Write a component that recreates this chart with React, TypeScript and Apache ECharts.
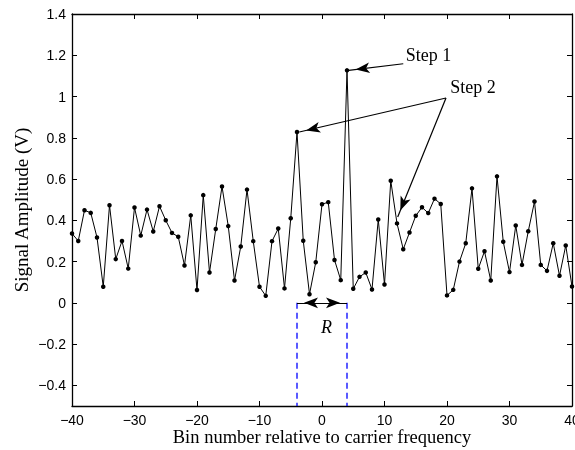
import React, { useEffect, useRef } from "react";
import * as echarts from "echarts";

const bins = [
  -40, -39, -38, -37, -36, -35, -34, -33, -32, -31,
  -30, -29, -28, -27, -26, -25, -24, -23, -22, -21,
  -20, -19, -18, -17, -16, -15, -14, -13, -12, -11,
  -10, -9, -8, -7, -6, -5, -4, -3, -2, -1,
  0, 1, 2, 3, 4, 5, 6, 7, 8, 9,
  10, 11, 12, 13, 14, 15, 16, 17, 18, 19,
  20, 21, 22, 23, 24, 25, 26, 27, 28, 29,
  30, 31, 32, 33, 34, 35, 36, 37, 38, 39, 40,
];

const amplitudes = [
  0.336, 0.3, 0.449, 0.436, 0.317, 0.078, 0.473, 0.212, 0.3, 0.166,
  0.462, 0.326, 0.452, 0.346, 0.468, 0.4, 0.339, 0.32, 0.181, 0.424,
  0.062, 0.522, 0.147, 0.358, 0.564, 0.372, 0.108, 0.273, 0.549, 0.299,
  0.078, 0.034, 0.299, 0.36, 0.07, 0.41, 0.828, 0.301, 0.042, 0.197,
  0.478, 0.488, 0.208, 0.11, 1.127, 0.068, 0.126, 0.147, 0.065, 0.404,
  0.089, 0.592, 0.385, 0.26, 0.341, 0.422, 0.463, 0.435, 0.505, 0.479,
  0.036, 0.063, 0.2, 0.289, 0.555, 0.165, 0.25, 0.108, 0.613, 0.296,
  0.149, 0.375, 0.184, 0.347, 0.491, 0.184, 0.155, 0.289, 0.131, 0.278, 0.079,
];

const yTicks = [-0.4, -0.2, 0, 0.2, 0.4, 0.6, 0.8, 1, 1.2, 1.4];

// annotation anchors in data coordinates
const step1From = [13.0, 1.159];
const step1To = [4.27, 1.127];
const step2From = [19.84, 0.993];
const step2ToA = [-3.63, 0.828];
const step2ToB = [12.11, 0.416];
const step1TextAt = [13.4, 1.2];
const step2TextAt = [20.5, 1.046];
const rSpan = [-4, 4];
const rSpanBottom = -0.5;
const rTextAt = [0.7, -0.118];

const fmt = (v: number) => {
  const r = Math.round(v * 10) / 10;
  const s = Math.abs(r) < 1e-9 ? "0" : String(r);
  return s.replace("-", "\u2212");
};

const tickFont = { fontFamily: "Liberation Sans", fontSize: 14, color: "#000" };
const serif = "Liberation Serif";
const frameW = 1.3;

export default function App() {
  const ref = useRef<HTMLDivElement>(null);
  useEffect(() => {
    if (!ref.current) return;
    const chart = echarts.init(ref.current, null, { renderer: "svg" });
    const head = { symbol: "arrow", symbolSize: [8, 14], symbolOffset: [0, "50%"] };
    const arrowEnd = (from: number[], to: number[]) => [
      { coord: from, symbol: "none" },
      { coord: to, ...head },
    ];
    const dashSeries = (x: number) => ({
      type: "line",
      silent: true,
      data: [
        [x, 0],
        [x, rSpanBottom],
      ],
      symbol: "none",
      showSymbol: false,
      lineStyle: { color: "#0000ff", width: 1.3, type: [6, 4] },
      itemStyle: { color: "#0000ff" },
      emphasis: { disabled: true },
      z: 1,
    });
    chart.setOption({
      animation: false,
      grid: { left: 72, right: 3, top: 14, bottom: 44, containLabel: false, outerBoundsMode: "none" },
      xAxis: [
        {
          type: "value",
          min: -40,
          max: 40,
          interval: 10,
          name: "Bin number relative to carrier frequency",
          nameLocation: "middle",
          nameGap: 21,
          nameMoveOverlap: false,
          nameTextStyle: { fontFamily: serif, fontSize: 18.5, color: "#000" },
          axisLine: { show: true, onZero: false, lineStyle: { color: "#000", width: frameW } },
          axisTick: { show: true, inside: true, length: 5, lineStyle: { color: "#000" } },
          axisLabel: { ...tickFont, margin: 7, formatter: fmt, hideOverlap: false, showMinLabel: true, showMaxLabel: true },
          splitLine: { show: false },
        },
        {
          type: "value",
          position: "top",
          min: -40,
          max: 40,
          interval: 10,
          axisLine: { show: true, onZero: false, lineStyle: { color: "#000", width: frameW } },
          axisTick: { show: true, inside: true, length: 5, lineStyle: { color: "#000" } },
          axisLabel: { show: false },
          splitLine: { show: false },
        },
      ],
      yAxis: [
        {
          type: "value",
          min: -0.5,
          max: 1.4,
          name: "Signal Amplitude (V)",
          nameLocation: "middle",
          nameGap: 41,
          nameMoveOverlap: false,
          nameTextStyle: { fontFamily: serif, fontSize: 19, color: "#000" },
          axisLine: { show: true, onZero: false, lineStyle: { color: "#000", width: frameW } },
          axisTick: { show: true, inside: true, length: 5, customValues: yTicks, lineStyle: { color: "#000" } },
          axisLabel: { ...tickFont, margin: 6, customValues: yTicks, formatter: fmt },
          splitLine: { show: false },
        },
        {
          type: "value",
          position: "right",
          min: -0.5,
          max: 1.4,
          axisLine: { show: true, onZero: false, lineStyle: { color: "#000", width: frameW } },
          axisTick: { show: true, inside: true, length: 5, customValues: yTicks, lineStyle: { color: "#000" } },
          axisLabel: { show: false, customValues: yTicks },
          splitLine: { show: false },
        },
      ],
      series: [
        dashSeries(rSpan[0]),
        dashSeries(rSpan[1]),
        {
          type: "line",
          name: "signal",
          data: bins.map((b, i) => [b, amplitudes[i]]),
          symbol: "circle",
          symbolSize: 4.5,
          showSymbol: true,
          lineStyle: { color: "#000", width: 1 },
          itemStyle: { color: "#000" },
          emphasis: { disabled: true },
          z: 3,
          markLine: {
            silent: true,
            animation: false,
            precision: 4,
            label: { show: false },
            emphasis: { disabled: true },
            lineStyle: { color: "#000", width: 1.2, type: "solid" },
            data: [
              arrowEnd(step1From, step1To),
              arrowEnd(step2From, step2ToA),
              arrowEnd(step2From, step2ToB),
              [
                { coord: [rSpan[0], 0], ...head },
                { coord: [rSpan[1], 0], ...head },
              ],
            ],
          },
          markPoint: {
            silent: true,
            animation: false,
            symbol: "circle",
            symbolSize: 0,
            itemStyle: { color: "transparent" },
            label: { show: true, position: "right", distance: 0, fontFamily: serif, fontSize: 18, color: "#000" },
            data: [
              { coord: step1TextAt, label: { formatter: "Step 1" } },
              { coord: step2TextAt, label: { formatter: "Step 2" } },
              { coord: rTextAt, label: { formatter: "R", position: "inside", fontStyle: "italic" } },
            ],
          },
        },
      ],
    });
    return () => chart.dispose();
  }, []);
  return <div ref={ref} style={{ position: "fixed", left: 0, top: 0, width: 575, height: 450 }} />;
}
